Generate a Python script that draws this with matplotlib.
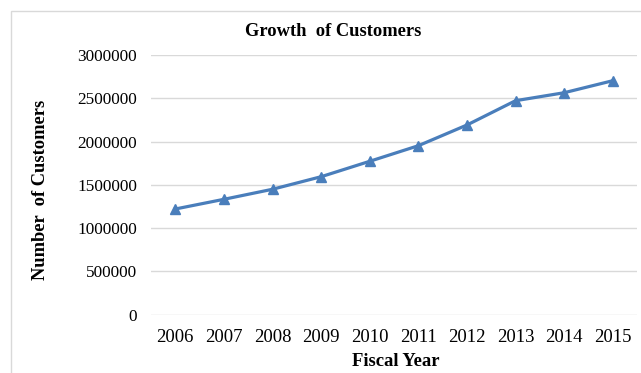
import matplotlib
matplotlib.use("Agg")
import matplotlib.pyplot as plt
import matplotlib.ticker as ticker
from matplotlib.patches import Rectangle

years = ["2006", "2007", "2008", "2009", "2010", "2011", "2012", "2013", "2014", "2015"]
customers = [1221000, 1333000, 1449000, 1594000, 1772000, 1952000, 2191000, 2472000, 2564000, 2703000]
y_ticks = [0, 500000, 1000000, 1500000, 2000000, 2500000, 3000000]

plt.rcParams['font.family'] = ['Liberation Serif', 'DejaVu Serif']

W, H = 641, 373
fig = plt.figure(figsize=(W / 100, H / 100), dpi=100)

# outer chart frame (runs off the right and bottom edge)
fig.patches.append(Rectangle((11 / W, -0.1), 1.2, 1 - 11 / H + 0.1, transform=fig.transFigure,
                             fill=False, edgecolor="#d9d9d9", lw=1.0))

ax = fig.add_axes([151 / W, 1 - 314.7 / H, (637 - 151) / W, (314.7 - 55) / H])
x = list(range(len(years)))
ax.plot(x, customers, color="#4a7ebb", lw=2.3, marker="^", markersize=7, zorder=3)

ax.set_xlim(-0.5, len(years) - 0.5)
ax.set_ylim(0, 3000000)
ax.set_xticks(x)
ax.set_xticklabels(years)
ax.yaxis.set_major_locator(ticker.FixedLocator(y_ticks))
ax.yaxis.set_major_formatter(ticker.FuncFormatter(lambda v, p: "%d" % v))
ax.grid(True, axis="y", color="#d9d9d9", lw=1.0)
ax.set_axisbelow(True)
for s in ax.spines.values():
    s.set_visible(False)
ax.tick_params(axis="both", length=0, colors="black")
ax.tick_params(axis="y", pad=10, labelsize=12.4)
ax.tick_params(axis="x", pad=10, labelsize=13.5)

fig.text(333.5 / W, 1 - 31.7 / H, "Growth  of Customers", ha="center", va="center",
         fontsize=13.3, fontweight="bold")
fig.text(396 / W, 1 - 361.7 / H, "Fiscal Year", ha="center", va="center",
         fontsize=13.4, fontweight="bold")
fig.text(41 / W, 1 - 190 / H, "Number  of Customers", ha="center", va="center",
         rotation=90, fontsize=13.3, fontweight="bold")

fig.savefig("out.png", dpi=100, facecolor="white")
